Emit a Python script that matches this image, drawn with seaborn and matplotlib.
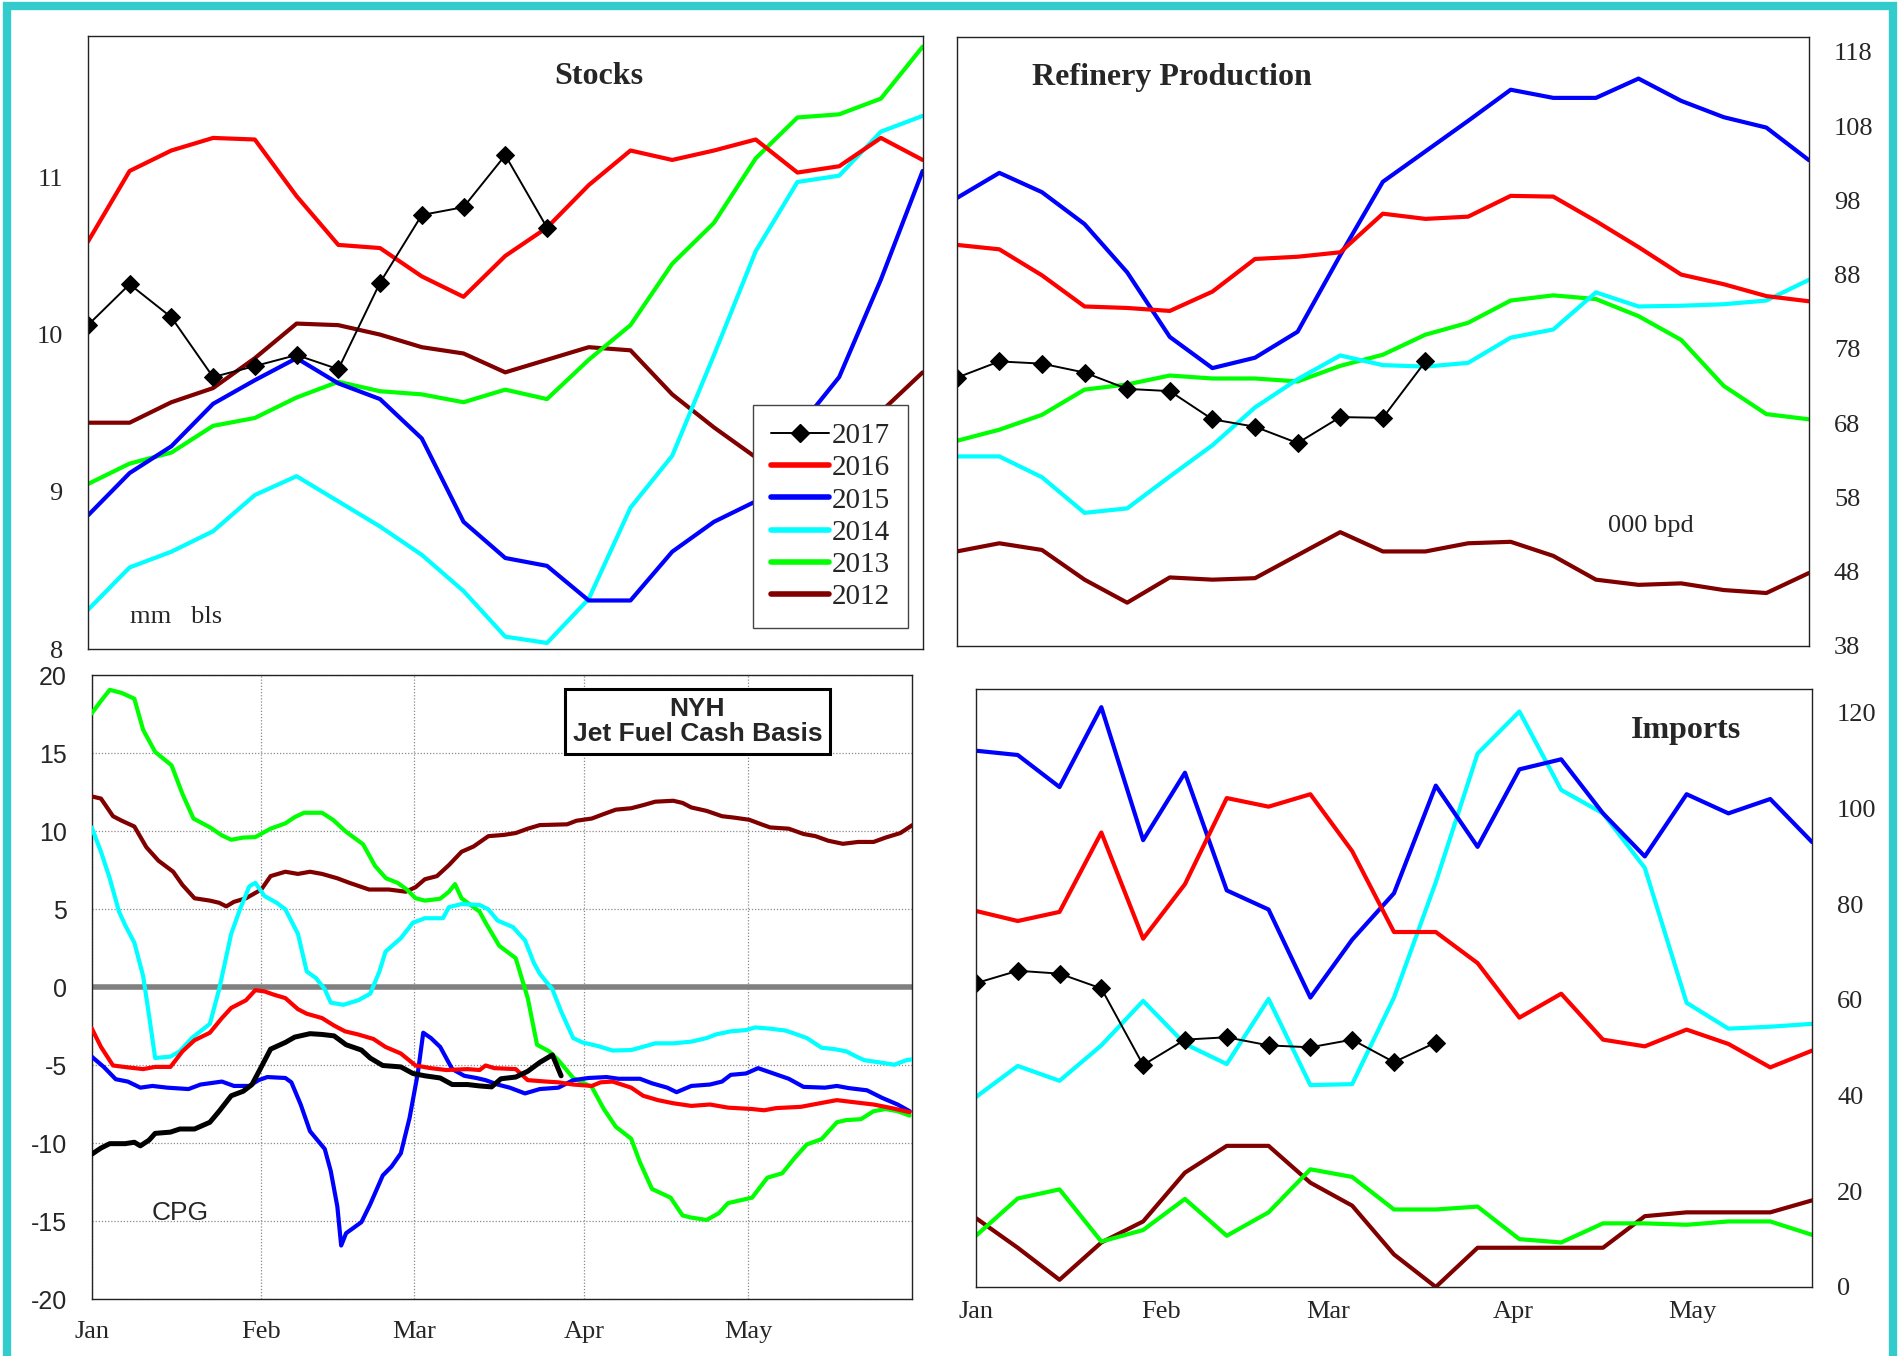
import matplotlib
matplotlib.use("Agg")
import matplotlib.pyplot as plt
from matplotlib.patches import Rectangle
from matplotlib.lines import Line2D
import seaborn as sns
import pandas as pd

# ---------------- data ----------------
WEEK_DAYS = [0, 7, 14, 21, 28, 35, 42, 49, 56, 63, 70, 77, 84, 91, 98, 105, 112, 119, 126, 133, 140]
MONTH_DAYS = [0, 31, 59, 90, 120]
MONTH_LABELS = ["Jan", "Feb", "Mar", "Apr", "May"]
YEARS = ["2017", "2016", "2015", "2014", "2013", "2012"]

# Stocks (mm bls)
stocks_2017 = [10.06, 10.32, 10.11, 9.73, 9.80, 9.87, 9.78, 10.33, 10.76, 10.81, 11.14, 10.68]
stocks_2016 = [10.59, 11.04, 11.17, 11.25, 11.24, 10.88, 10.57, 10.55, 10.37, 10.24, 10.50, 10.68, 10.95, 11.17, 11.11, 11.17, 11.24, 11.03, 11.07, 11.25, 11.11]
stocks_2015 = [8.85, 9.12, 9.29, 9.56, 9.71, 9.85, 9.69, 9.59, 9.34, 8.81, 8.58, 8.53, 8.31, 8.31, 8.62, 8.81, 8.94, 9.40, 9.73, 10.35, 11.04]
stocks_2014 = [8.25, 8.52, 8.62, 8.75, 8.98, 9.10, 8.94, 8.78, 8.60, 8.37, 8.08, 8.04, 8.32, 8.90, 9.23, 9.87, 10.53, 10.97, 11.01, 11.29, 11.39]
stocks_2013 = [9.05, 9.18, 9.25, 9.42, 9.47, 9.60, 9.70, 9.64, 9.62, 9.57, 9.65, 9.59, 9.84, 10.06, 10.45, 10.71, 11.12, 11.38, 11.40, 11.50, 11.83]
stocks_2012 = [9.44, 9.44, 9.57, 9.66, 9.85, 10.07, 10.06, 10.00, 9.92, 9.88, 9.76, 9.84, 9.92, 9.90, 9.62, 9.41, 9.22, 9.07, 9.23, 9.51, 9.76]

# Refinery production (000 bpd)
ref_2017 = [74.1, 76.3, 76.0, 74.8, 72.6, 72.3, 68.5, 67.5, 65.3, 68.8, 68.7, 76.3]
ref_2016 = [92.0, 91.4, 87.9, 83.7, 83.5, 83.1, 85.7, 90.1, 90.4, 91.0, 96.2, 95.5, 95.8, 98.6, 98.5, 95.2, 91.7, 88.0, 86.7, 85.1, 84.4]
ref_2015 = [98.3, 101.7, 99.1, 94.8, 88.3, 79.6, 75.4, 76.8, 80.3, 90.6, 100.5, 104.6, 108.7, 112.9, 111.8, 111.8, 114.4, 111.4, 109.2, 107.8, 103.4]
ref_2014 = [63.5, 63.5, 60.7, 55.9, 56.5, 60.8, 65.0, 70.1, 73.9, 77.1, 75.8, 75.6, 76.1, 79.5, 80.6, 85.6, 83.7, 83.8, 84.0, 84.5, 87.3]
ref_2013 = [65.6, 67.1, 69.1, 72.5, 73.2, 74.4, 74.0, 74.0, 73.6, 75.7, 77.2, 79.9, 81.5, 84.5, 85.2, 84.7, 82.4, 79.2, 73.0, 69.2, 68.5]
ref_2012 = [50.7, 51.8, 50.9, 46.9, 43.8, 47.2, 46.9, 47.1, 50.2, 53.3, 50.7, 50.7, 51.8, 52.0, 50.1, 46.9, 46.2, 46.4, 45.5, 45.1, 47.8]

# Imports
imp_2017 = [63.5, 66.1, 65.5, 62.4, 46.4, 51.7, 52.2, 50.5, 50.1, 51.7, 47.0, 51.1]
imp_2016 = [78.6, 76.5, 78.4, 95.0, 72.8, 84.2, 102.2, 100.4, 103.0, 91.1, 74.2, 74.2, 67.7, 56.3, 61.3, 51.7, 50.3, 53.8, 50.8, 45.9, 49.4]
imp_2015 = [112.1, 111.2, 104.5, 121.2, 93.4, 107.5, 82.9, 78.9, 60.5, 72.6, 82.3, 104.8, 92.0, 108.2, 110.3, 99.0, 90.0, 103.0, 99.0, 102.0, 93.0]
imp_2014 = [39.7, 46.2, 43.1, 50.5, 59.8, 50.8, 46.6, 60.2, 42.2, 42.4, 60.5, 84.6, 111.5, 120.3, 103.9, 99.0, 87.6, 59.4, 54.0, 54.4, 55.0]
imp_2013 = [10.7, 18.5, 20.4, 9.5, 11.9, 18.4, 10.7, 15.6, 24.6, 23.0, 16.2, 16.2, 16.8, 10.0, 9.3, 13.3, 13.3, 13.0, 13.7, 13.7, 10.9]
imp_2012 = [14.4, 8.2, 1.5, 9.3, 13.7, 23.9, 29.5, 29.5, 21.8, 17.0, 6.8, 0.0, 8.2, 8.2, 8.2, 8.2, 14.8, 15.6, 15.6, 15.6, 18.1]

# NYH jet fuel cash basis (day of year, value)
jet_day_2017 = [0, 1.7, 3.3, 6.1, 7.8, 8.9, 10.5, 11.6, 14.4, 16.1, 18.8, 21.6, 23.3, 25.5, 27.7, 29.3, 31.0, 32.7, 35.4, 37.1, 39.9, 42.1, 44.3, 46.5, 49.3, 50.9, 53.2, 56.5, 58.7, 60.9, 63.7, 65.9, 68.7, 70.9, 73.1, 74.8, 77.5, 79.7, 81.9, 84.2, 85.8]
jet_val_2017 = [-10.72, -10.32, -10.04, -10.04, -9.95, -10.18, -9.81, -9.38, -9.30, -9.10, -9.10, -8.67, -7.96, -6.97, -6.68, -6.25, -5.12, -3.98, -3.55, -3.21, -2.99, -3.04, -3.13, -3.70, -4.04, -4.55, -5.03, -5.12, -5.54, -5.69, -5.83, -6.25, -6.25, -6.34, -6.40, -5.88, -5.77, -5.40, -4.83, -4.35, -5.69]

jet_day_2016 = [0, 1.7, 3.9, 6.6, 9.4, 11.6, 14.4, 16.6, 18.8, 21.6, 23.8, 25.5, 28.2, 29.9, 31.6, 33.2, 35.4, 37.7, 39.3, 42.1, 44.3, 46.3, 48.7, 51.5, 53.7, 56.5, 59.2, 62.0, 64.8, 68.7, 70.9, 72.0, 73.6, 77.5, 79.7, 83.1, 85.3, 88.0, 91.4, 93.0, 95.2, 98.6, 100.8, 103.5, 106.3, 109.6, 113.0, 116.3, 120.7, 122.9, 125.1, 129.6, 134.0, 136.2, 139.5, 142.9, 146.2, 149.5]
jet_val_2016 = [-2.64, -3.84, -5.03, -5.15, -5.26, -5.12, -5.12, -4.12, -3.41, -2.93, -1.99, -1.34, -0.85, -0.20, -0.28, -0.48, -0.71, -1.42, -1.71, -1.99, -2.47, -2.84, -3.04, -3.33, -3.84, -4.26, -5.03, -5.20, -5.32, -5.26, -5.32, -5.03, -5.20, -5.26, -5.97, -6.06, -6.11, -6.25, -6.34, -6.11, -6.06, -6.45, -6.97, -7.25, -7.45, -7.62, -7.53, -7.73, -7.82, -7.90, -7.76, -7.68, -7.39, -7.25, -7.39, -7.53, -7.76, -8.02]

jet_day_2015 = [0, 2.2, 4.4, 6.6, 8.9, 11.1, 13.8, 17.7, 19.9, 23.8, 26.0, 28.8, 30.5, 32.1, 35.4, 36.5, 38.2, 39.9, 42.6, 43.7, 44.9, 45.6, 46.5, 49.3, 50.9, 53.2, 54.8, 56.5, 58.1, 59.6, 60.6, 62.0, 63.7, 65.9, 68.1, 70.3, 72.0, 74.2, 76.4, 79.2, 81.9, 85.3, 88.0, 90.8, 94.1, 96.3, 100.2, 102.4, 105.2, 106.9, 109.6, 113.0, 115.2, 116.8, 119.6, 121.8, 124.6, 127.4, 130.1, 134.0, 136.2, 138.4, 141.7, 144.5, 147.3, 149.5]
jet_val_2015 = [-4.46, -5.12, -5.91, -6.06, -6.45, -6.34, -6.45, -6.54, -6.25, -6.06, -6.34, -6.34, -5.97, -5.77, -5.83, -6.11, -7.53, -9.24, -10.38, -11.80, -14.07, -16.57, -15.78, -15.07, -13.93, -12.08, -11.51, -10.66, -8.39, -5.54, -2.93, -3.27, -3.84, -5.26, -5.69, -5.83, -5.97, -6.25, -6.45, -6.82, -6.54, -6.45, -5.97, -5.83, -5.77, -5.88, -5.88, -6.17, -6.45, -6.74, -6.34, -6.25, -6.06, -5.63, -5.54, -5.20, -5.54, -5.88, -6.40, -6.45, -6.34, -6.48, -6.62, -7.11, -7.53, -7.96]

jet_day_2014 = [0, 1.7, 3.3, 5.0, 6.1, 7.8, 9.4, 10.5, 11.6, 14.4, 16.1, 18.3, 21.6, 23.3, 25.5, 27.1, 28.8, 29.9, 31.6, 33.8, 35.4, 37.7, 39.3, 41.0, 42.6, 43.7, 46.0, 48.7, 50.9, 52.6, 53.7, 56.5, 58.7, 60.9, 64.2, 65.3, 67.6, 70.9, 72.5, 74.2, 77.0, 79.2, 80.8, 81.9, 84.2, 85.8, 88.0, 89.7, 92.5, 95.2, 98.6, 101.3, 103.0, 106.3, 109.6, 112.4, 114.1, 116.8, 119.6, 121.3, 124.0, 126.8, 128.5, 130.7, 133.4, 135.7, 137.9, 139.5, 141.2, 144.0, 146.7, 148.9, 150]
jet_val_2014 = [10.23, 8.67, 6.97, 4.83, 3.98, 2.84, 0.71, -1.85, -4.55, -4.46, -4.12, -3.27, -2.36, -0.14, 3.41, 4.98, 6.45, 6.68, 5.83, 5.40, 4.98, 3.41, 1.00, 0.57, -0.14, -1.00, -1.14, -0.85, -0.43, 1.00, 2.27, 3.13, 4.12, 4.41, 4.41, 5.12, 5.32, 5.26, 4.98, 4.26, 3.84, 2.99, 1.56, 0.85, -0.14, -1.56, -3.27, -3.55, -3.78, -4.07, -4.04, -3.78, -3.61, -3.61, -3.50, -3.27, -3.04, -2.84, -2.76, -2.59, -2.67, -2.79, -2.99, -3.27, -3.89, -3.98, -4.12, -4.41, -4.69, -4.83, -4.98, -4.69, -4.63]

jet_day_2013 = [0, 1.7, 3.3, 5.5, 7.8, 9.4, 11.6, 14.6, 16.6, 18.6, 21.6, 23.8, 25.5, 27.7, 29.9, 32.7, 35.4, 37.1, 38.8, 42.1, 44.1, 46.5, 49.6, 51.8, 53.8, 55.9, 57.6, 59.2, 60.9, 63.7, 65.3, 66.4, 67.6, 70.9, 72.0, 74.5, 77.5, 79.7, 81.4, 83.6, 85.3, 88.0, 91.4, 93.6, 95.8, 98.6, 100.2, 102.4, 105.8, 108.0, 109.6, 112.4, 114.6, 116.3, 120.7, 123.5, 126.2, 128.5, 130.7, 133.4, 136.2, 137.9, 140.6, 142.9, 145.1, 147.3, 149.5]
jet_val_2013 = [17.54, 18.34, 19.05, 18.85, 18.48, 16.49, 15.07, 14.21, 12.37, 10.80, 10.24, 9.72, 9.44, 9.58, 9.61, 10.15, 10.49, 10.89, 11.17, 11.17, 10.72, 9.95, 9.15, 7.76, 6.97, 6.68, 6.25, 5.69, 5.54, 5.66, 6.11, 6.60, 5.69, 4.83, 4.12, 2.64, 1.85, -0.71, -3.70, -4.12, -4.69, -5.83, -6.40, -7.82, -8.96, -9.72, -11.23, -12.94, -13.50, -14.64, -14.78, -14.93, -14.50, -13.85, -13.50, -12.22, -11.94, -10.95, -10.09, -9.75, -8.67, -8.53, -8.47, -7.96, -7.82, -7.96, -8.24]

jet_day_2012 = [0, 1.7, 3.9, 5.5, 7.8, 10.0, 12.2, 14.9, 16.6, 18.8, 21.6, 23.3, 24.6, 26.0, 28.2, 31.0, 32.7, 35.4, 37.7, 39.9, 42.1, 44.9, 47.1, 50.7, 54.3, 57.4, 59.2, 60.9, 63.1, 65.3, 67.6, 69.8, 72.5, 75.3, 77.5, 79.7, 81.9, 86.9, 88.6, 91.4, 93.6, 95.8, 98.6, 100.8, 103.0, 106.3, 108.0, 109.6, 112.4, 115.2, 117.4, 120.2, 122.4, 124.0, 127.4, 130.1, 132.3, 134.6, 137.3, 140.1, 142.9, 145.1, 147.8, 150]
jet_val_2012 = [12.22, 12.08, 10.95, 10.66, 10.29, 8.96, 8.10, 7.39, 6.54, 5.69, 5.54, 5.40, 5.17, 5.46, 5.69, 6.25, 7.11, 7.39, 7.25, 7.39, 7.25, 6.97, 6.68, 6.25, 6.25, 6.11, 6.40, 6.91, 7.11, 7.82, 8.67, 9.01, 9.67, 9.75, 9.87, 10.15, 10.38, 10.43, 10.66, 10.80, 11.09, 11.37, 11.46, 11.66, 11.88, 11.94, 11.80, 11.51, 11.29, 10.95, 10.86, 10.72, 10.43, 10.23, 10.15, 9.81, 9.67, 9.38, 9.18, 9.30, 9.30, 9.58, 9.87, 10.38]

# ---------------- style ----------------
COLORS = {"2017": "#000000", "2016": "#FF0000", "2015": "#0000FF",
          "2014": "#00FFFF", "2013": "#00FF00", "2012": "#800000"}
SERIF = ["Liberation Serif", "DejaVu Serif"]
SANS = ["Liberation Sans", "DejaVu Sans"]
LW = 3.0
TICK_FS = 19
TITLE_FS = 23

sns.set_theme(style="white")
plt.rcParams["font.family"] = SERIF
plt.rcParams["axes.edgecolor"] = "#222222"
plt.rcParams["axes.linewidth"] = 1.0
plt.rcParams["axes.unicode_minus"] = False

fig = plt.figure(figsize=(19.02, 13.56), dpi=100)
fig.patch.set_facecolor("white")

ax1 = fig.add_axes([0.0462, 0.5212, 0.4851 - 0.0462, 0.9737 - 0.5212])
ax2 = fig.add_axes([0.5030, 0.5238, 0.9511 - 0.5030, 0.9727 - 0.5238])
ax3 = fig.add_axes([0.0482, 0.0420, 0.4797 - 0.0482, 0.5022 - 0.0420])
ax4 = fig.add_axes([0.5131, 0.0509, 0.9527 - 0.5131, 0.4919 - 0.0509])


def weekly_panel(ax, series):
    order = ["2012", "2013", "2014", "2015", "2016"]
    for yr in order:
        vals = series[yr]
        sns.lineplot(x=WEEK_DAYS[:len(vals)], y=vals, ax=ax, color=COLORS[yr],
                     linewidth=LW, legend=False)
    vals = series["2017"]
    sns.lineplot(x=WEEK_DAYS[:len(vals)], y=vals, ax=ax, color="black",
                 linewidth=1.4, marker="D", markersize=9, markeredgecolor="black",
                 legend=False)
    ax.set_xlim(0, 140)
    ax.set_xlabel("")
    ax.set_ylabel("")


weekly_panel(ax1, {"2017": stocks_2017, "2016": stocks_2016, "2015": stocks_2015,
                   "2014": stocks_2014, "2013": stocks_2013, "2012": stocks_2012})
weekly_panel(ax2, {"2017": ref_2017, "2016": ref_2016, "2015": ref_2015,
                   "2014": ref_2014, "2013": ref_2013, "2012": ref_2012})
weekly_panel(ax4, {"2017": imp_2017, "2016": imp_2016, "2015": imp_2015,
                   "2014": imp_2014, "2013": imp_2013, "2012": imp_2012})

# --- Stocks
ax1.set_ylim(8, 11.9)
ax1.set_yticks([8, 9, 10, 11])
ax1.set_xticks([])
ax1.tick_params(axis="y", length=0, pad=18, labelsize=TICK_FS)
ax1.text(0.612, 0.934, "Stocks", transform=ax1.transAxes, ha="center", va="center",
         fontsize=TITLE_FS, fontweight="bold", family=SERIF)
ax1.text(0.05, 0.053, "mm   bls", transform=ax1.transAxes, ha="left", va="center",
         fontsize=19, family=SERIF)
handles = [Line2D([], [], color="black", lw=1.4, marker="D", markersize=9)]
handles += [Line2D([], [], color=COLORS[y], lw=LW + 1) for y in YEARS[1:]]
leg = ax1.legend(handles, YEARS, loc="lower right", bbox_to_anchor=(0.982, 0.035),
                 prop={"family": SERIF, "size": 21}, frameon=True, fancybox=False,
                 framealpha=1, edgecolor="#444444", borderpad=0.6, labelspacing=0.2,
                 handlelength=2.0, handletextpad=0.1, borderaxespad=0)
leg.get_frame().set_linewidth(1.0)

# --- Refinery
ax2.set_ylim(38, 120)
ax2.set_yticks(list(range(38, 119, 10)))
ax2.set_xticks([])
ax2.yaxis.tick_right()
ax2.tick_params(axis="y", length=0, pad=18, labelsize=TICK_FS, right=True, left=False,
                labelright=True, labelleft=False)
ax2.text(0.088, 0.933, "Refinery Production", transform=ax2.transAxes, ha="left",
         va="center", fontsize=TITLE_FS, fontweight="bold", family=SERIF)
ax2.text(0.764, 0.197, "000 bpd", transform=ax2.transAxes, ha="left", va="center",
         fontsize=19, family=SERIF)

# --- Imports
ax4.set_ylim(0, 125)
ax4.set_yticks(list(range(0, 121, 20)))
ax4.set_xticks(MONTH_DAYS)
ax4.set_xticklabels(MONTH_LABELS)
ax4.yaxis.tick_right()
ax4.tick_params(axis="y", length=0, pad=18, labelsize=TICK_FS, right=True, left=False,
                labelright=True, labelleft=False)
ax4.tick_params(axis="x", length=0, pad=10, labelsize=TICK_FS)
ax4.text(0.849, 0.93, "Imports", transform=ax4.transAxes, ha="center", va="center",
         fontsize=TITLE_FS, fontweight="bold", family=SERIF)

# --- NYH jet fuel
ax3.axhline(0, color="#808080", linewidth=4, zorder=1)
jet = [("2012", jet_day_2012, jet_val_2012), ("2013", jet_day_2013, jet_val_2013),
       ("2014", jet_day_2014, jet_val_2014), ("2015", jet_day_2015, jet_val_2015),
       ("2016", jet_day_2016, jet_val_2016), ("2017", jet_day_2017, jet_val_2017)]
for yr, d, v in jet:
    df = pd.DataFrame({"day": d, "val": v})
    sns.lineplot(data=df, x="day", y="val", ax=ax3, color=COLORS[yr],
                 linewidth=LW + (0.6 if yr == "2017" else 0), legend=False, zorder=3)
ax3.set_xlim(0, 150)
ax3.set_ylim(-20, 20)
ax3.set_xticks(MONTH_DAYS)
ax3.set_xticklabels(MONTH_LABELS)
ax3.set_yticks(list(range(-20, 21, 5)))
ax3.set_xlabel("")
ax3.set_ylabel("")
ax3.grid(True, color="#8a8a8a", linestyle=(0, (1, 1.5)), linewidth=0.9, zorder=0)
ax3.set_axisbelow(True)
ax3.tick_params(axis="y", length=0, pad=18, labelsize=18)
ax3.tick_params(axis="x", length=0, pad=16, labelsize=TICK_FS)
for lab in ax3.get_yticklabels():
    lab.set_family(SANS)
ax3.text(0.738, 0.9255, "NYH\nJet Fuel Cash Basis", transform=ax3.transAxes,
         ha="center", va="center", fontsize=19, fontweight="bold", family=SANS,
         linespacing=1.05, zorder=5,
         bbox=dict(boxstyle="square,pad=0.3", facecolor="white", edgecolor="black",
                   linewidth=2.2))
ax3.text(0.073, 0.1385, "CPG", transform=ax3.transAxes, ha="left", va="center",
         fontsize=19, family=SANS)

# --- teal frame
fig.add_artist(Rectangle((7 / 1902, -0.02), (1892.5 - 7) / 1902, 1 - 6 / 1356 + 0.02,
                         transform=fig.transFigure, fill=False, edgecolor="#33CCCC",
                         linewidth=6, clip_on=False))

fig.savefig("out.png", dpi=100)
